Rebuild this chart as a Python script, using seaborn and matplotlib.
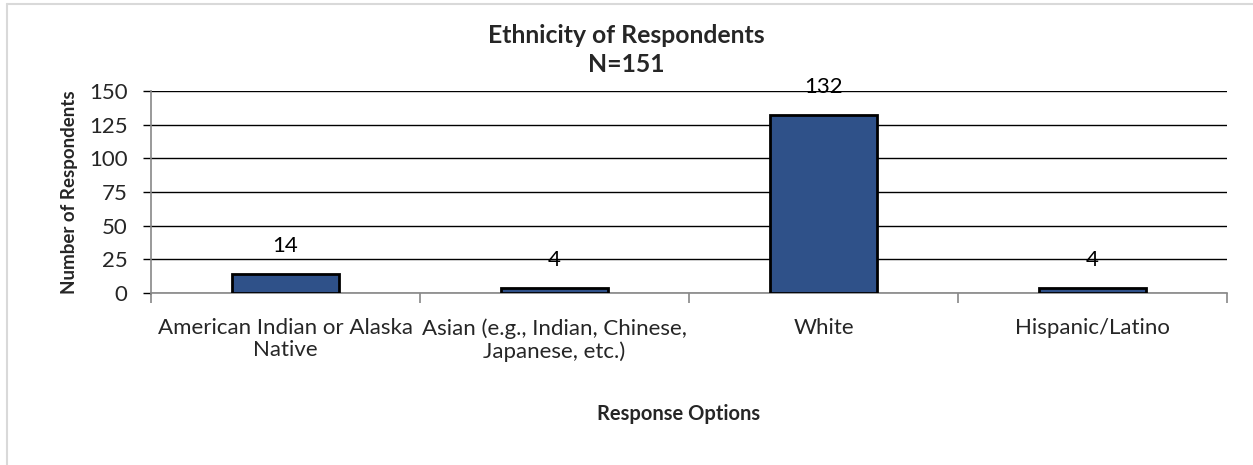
import matplotlib
matplotlib.use("Agg")
import matplotlib.pyplot as plt
from matplotlib.lines import Line2D
import seaborn as sns
import pandas as pd

categories = [
    "American Indian or Alaska\nNative",
    "Asian (e.g., Indian, Chinese,\nJapanese, etc.)",
    "White",
    "Hispanic/Latino",
]
counts = [14, 4, 132, 4]
y_ticks = [0, 25, 50, 75, 100, 125, 150]

title = "Ethnicity of Respondents\nN=151"
x_label = "Response Options"
y_label = "Number of Respondents"

sns.set_theme(style="white")
plt.rcParams["font.family"] = ["Lato", "DejaVu Sans"]

df = pd.DataFrame({"category": categories, "count": counts})

fig = plt.figure(figsize=(12.53, 4.65), dpi=100)
ax = fig.add_axes([151 / 1253, 1 - 293 / 465, 1076 / 1253, 202 / 465])

sns.barplot(data=df, x="category", y="count", color="#2F5189",
            width=0.40, edgecolor="black", linewidth=2, saturation=1, ax=ax,
            zorder=3)

ax.set_xlim(-0.5, len(categories) - 0.5)
ax.set_ylim(0, 150)
ax.set_yticks(y_ticks)
ax.yaxis.grid(True, color="black", linewidth=1)
ax.set_axisbelow(True)

for spine in ["top", "right"]:
    ax.spines[spine].set_visible(False)
for spine in ["left", "bottom"]:
    ax.spines[spine].set_color("#888888")
    ax.spines[spine].set_linewidth(1.2)

ax.tick_params(axis="y", which="major", length=6, width=1, color="black",
               labelsize=16, pad=11, left=True)
ax.tick_params(axis="x", which="major", length=0, labelsize=16, pad=18)
ax.set_xticks(range(len(categories)))
ax.set_xticklabels(categories, linespacing=1.15)
ax.set_xticks([i - 0.5 for i in range(len(categories) + 1)], minor=True)
ax.tick_params(axis="x", which="minor", length=7, width=1.2, color="#888888",
               bottom=True)

for i, v in enumerate(counts):
    ax.annotate(str(v), (i, v), xytext=(0, 20), textcoords="offset points",
                ha="center", va="center", fontsize=16, color="black")

ax.set_xlabel("")
ax.set_ylabel("")
fig.text(70 / 1253, 1 - 192 / 465, y_label, rotation=90, ha="center",
         va="center", fontsize=13.5, fontweight="bold")
fig.text(679 / 1253, 1 - 414 / 465, x_label, ha="center", va="center",
         fontsize=14.5, fontweight="bold")
fig.text(626 / 1253, 1 - 50 / 465, title, ha="center", va="center",
         fontsize=17.8, fontweight="bold", linespacing=1.35)

# thin frame along the left and top edges of the chart area
fig.add_artist(Line2D([7 / 1253, 7 / 1253], [0, 1 - 4 / 465],
                      transform=fig.transFigure, color="#D9D9D9", linewidth=1.5))
fig.add_artist(Line2D([7 / 1253, 1], [1 - 4 / 465, 1 - 4 / 465],
                      transform=fig.transFigure, color="#D9D9D9", linewidth=1.5))

fig.savefig("out.png", dpi=100)
